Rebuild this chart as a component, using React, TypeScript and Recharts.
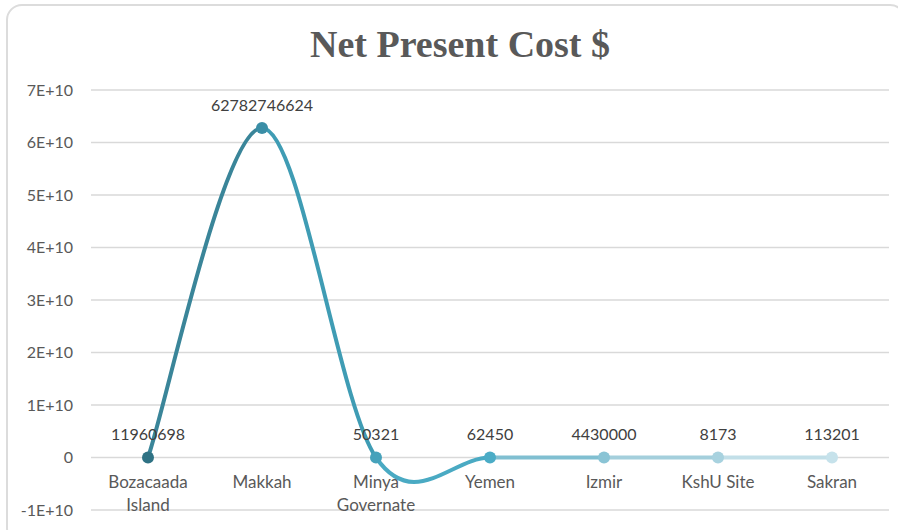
import React from 'react';
import { LineChart, Line, XAxis, YAxis, CartesianGrid, LabelList, Text } from 'recharts';

const sites = ['Bozacaada Island', 'Makkah', 'Minya Governate', 'Yemen', 'Izmir', 'KshU Site', 'Sakran'];
const netPresentCost = [11960698, 62782746624, 50321, 62450, 4430000, 8173, 113201];
const yTicks = [-1e10, 0, 1e10, 2e10, 3e10, 4e10, 5e10, 6e10, 7e10];

const data = sites.map((site, i) => ({ site, value: netPresentCost[i] }));

const pointColors = ['#2f7284', '#3a8ea6', '#46a2bb', '#4bacc6', '#8ac4d5', '#a8d2df', '#c6e2eb'];
const segmentColors = ['#3a8599', '#3f9cb4', '#4aaac3', '#80bfd1', '#a4cfdc', '#c2dfe8'];

const FONT = 'Lato, "Open Sans", sans-serif';

// Excel-like smoothed line: cubic bezier with control points at 1/6 of neighbour span
const excelCurve = (context: any) => {
  let pts: number[][] = [];
  return {
    areaStart() {},
    areaEnd() {},
    lineStart() { pts = []; },
    point(x: number, y: number) { pts.push([+x, +y]); },
    lineEnd() {
      const n = pts.length;
      if (!n) return;
      context.moveTo(pts[0][0], pts[0][1]);
      for (let i = 0; i < n - 1; i++) {
        const p0 = pts[Math.max(i - 1, 0)];
        const p1 = pts[i];
        const p2 = pts[i + 1];
        const p3 = pts[Math.min(i + 2, n - 1)];
        context.bezierCurveTo(
          p1[0] + (p2[0] - p0[0]) / 6, p1[1] + (p2[1] - p0[1]) / 6,
          p2[0] - (p3[0] - p1[0]) / 6, p2[1] - (p3[1] - p1[1]) / 6,
          p2[0], p2[1],
        );
      }
    },
  };
};

const fmtY = (v: number) => (v === 0 ? '0' : `${v / 1e10}E+10`);

const SiteTick = ({ x, y, payload }: any) => (
  <Text x={x} y={y - 34} width={100} textAnchor="middle" verticalAnchor="start" lineHeight={23}
    fill="#595959" fontSize={17} fontFamily={FONT}>
    {payload.value}
  </Text>
);

const Dot = ({ cx, cy, index }: any) => (
  <circle key={`dot-${index}`} cx={cx} cy={cy} r={6} fill={pointColors[index]} />
);

export default function App() {
  const n = segmentColors.length;
  return (
    <div style={{ position: 'absolute', left: 0, top: 0, width: 898, height: 530, background: '#fff', overflow: 'hidden' }}>
      <div style={{ position: 'absolute', left: 6, top: 4, width: 900, height: 540, border: '2px solid #dcdcdc', borderRadius: 16, boxSizing: 'border-box' }} />
      <div style={{ position: 'absolute', left: 0, top: 22, width: 920, textAlign: 'center', fontFamily: '"Liberation Serif", "Times New Roman", serif', fontWeight: 'bold', fontSize: 38, color: '#595959', lineHeight: '44px' }}>
        Net Present Cost $
      </div>
      <div style={{ position: 'absolute', left: 0, top: 0 }}>
        <LineChart width={898} height={530} data={data} margin={{ top: 90, right: 9, bottom: 0, left: 21 }}>
          <defs>
            <linearGradient id="segStroke" x1="0" y1="0" x2="1" y2="0">
              {segmentColors.map((c, i) => [
                <stop key={`a${i}`} offset={i / n} stopColor={c} />,
                <stop key={`b${i}`} offset={(i + 1) / n} stopColor={c} />,
              ])}
            </linearGradient>
          </defs>
          <CartesianGrid vertical={false} stroke="#d9d9d9" strokeWidth={1.3} />
          <XAxis dataKey="site" axisLine={false} tickLine={false} tickSize={0} tickMargin={0} height={20} interval={0}
            padding={{ left: 57, right: 57 }} tick={<SiteTick />} />
          <YAxis domain={[-1e10, 7e10]} ticks={yTicks} tickFormatter={fmtY} axisLine={false} tickLine={false}
            tickSize={0} tickMargin={18} width={70} interval={0}
            tick={{ fill: '#595959', fontSize: 16, fontFamily: FONT }} />
          <Line type={excelCurve as any} dataKey="value" stroke="url(#segStroke)" strokeWidth={4}
            dot={<Dot />} activeDot={false} isAnimationActive={false}>
            <LabelList dataKey="value" position="top" offset={17} fill="#404040" fontSize={16} fontFamily={FONT} />
          </Line>
        </LineChart>
      </div>
    </div>
  );
}
